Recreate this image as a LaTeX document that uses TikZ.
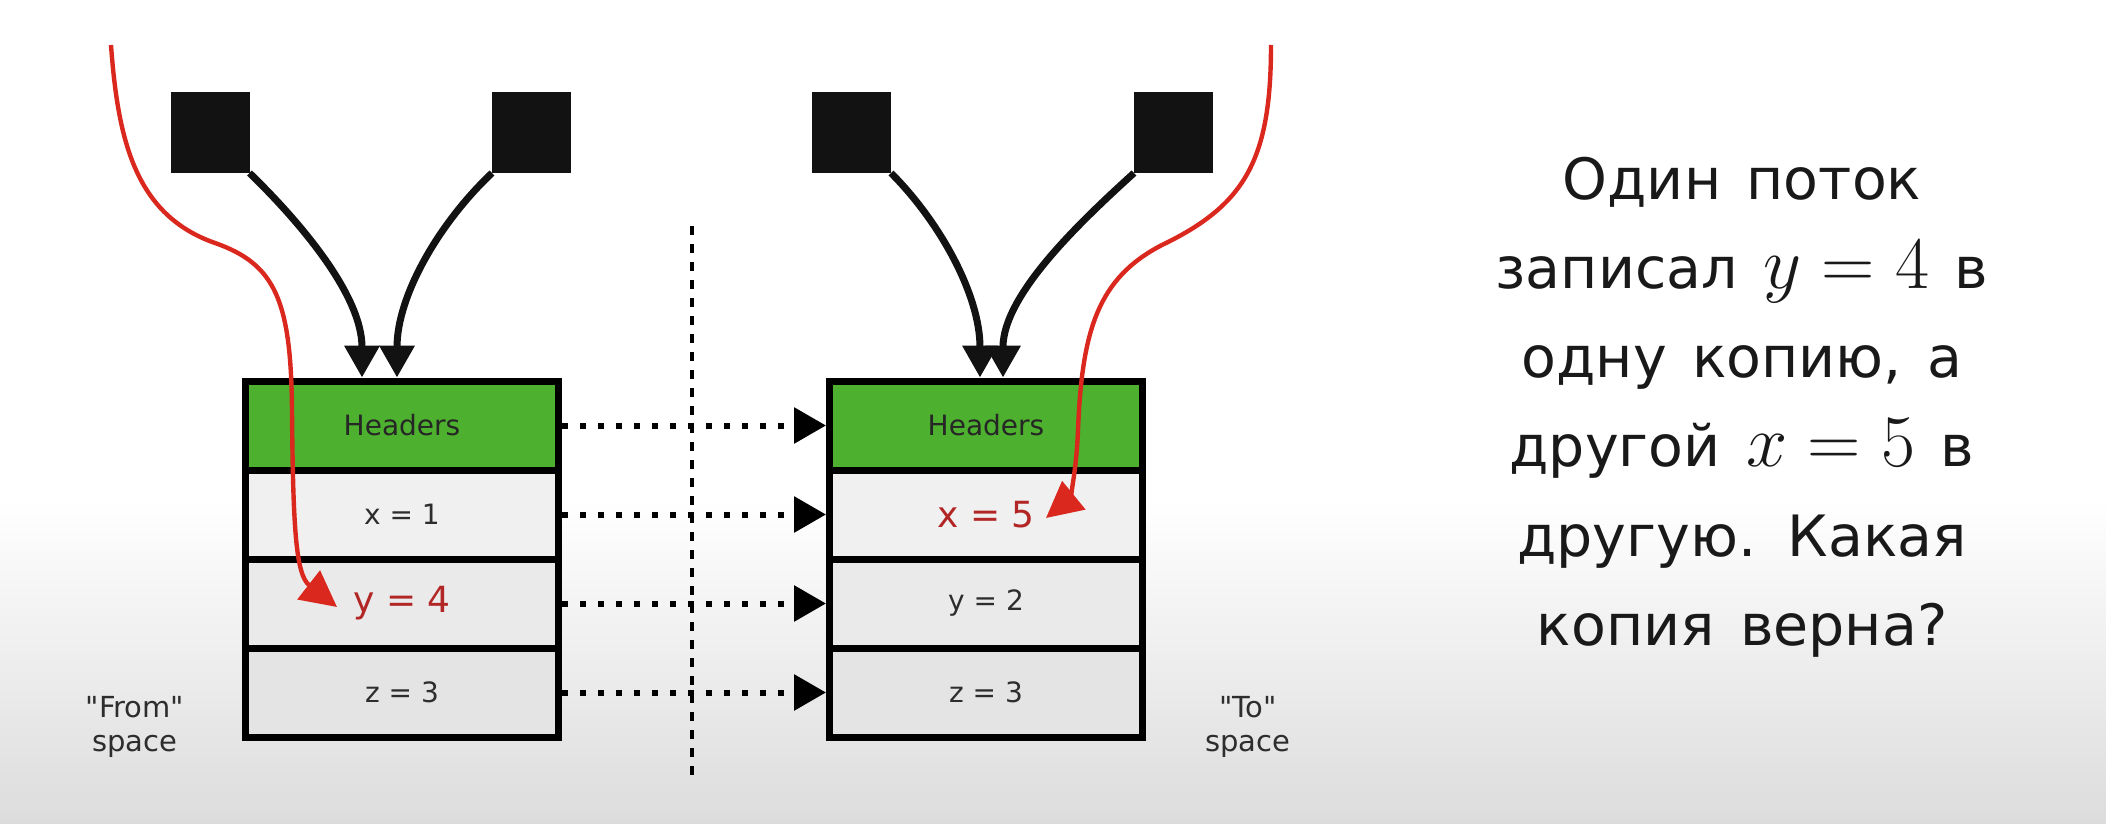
\RequirePackage{fix-cm}
\documentclass[tikz,border=0pt]{standalone}
\usepackage{fontspec}
\newfontfamily\dvs{DejaVu Sans}
\newcommand\qmath[1]{{\fontsize{37}{44.6}\selectfont$#1$}}
\newcommand\qfont{\dvs\fontsize{28.5}{44.6}\selectfont\spaceskip 0.445em\relax}
\usetikzlibrary{arrows.meta,calc}
\definecolor{hdrgreen}{RGB}{77,176,46}
\definecolor{rowa}{RGB}{240,240,240}
\definecolor{rowb}{RGB}{234,234,234}
\definecolor{rowc}{RGB}{228,228,228}
\definecolor{bggray}{RGB}{220,220,220}
\definecolor{redline}{RGB}{218,40,30}
\definecolor{redtxt}{RGB}{178,38,38}
\definecolor{inkgray}{RGB}{45,45,45}
\tikzset{
  cell/.style={draw=black, line width=3.5pt, minimum width=156.5pt, minimum height=44.5pt,
    inner sep=0pt, font=\dvs\fontsize{14}{16}\selectfont, text=inkgray},
  bigval/.style={text=redtxt, font=\dvs\fontsize{18}{20}\selectfont},
  thread/.style={fill=black!93, draw=none, minimum width=39.5pt, minimum height=40.5pt,
    inner sep=0pt, outer sep=0pt},
  blkarrow/.style={draw=black!93, line width=3.5pt, -{Triangle[length=16pt,width=17pt]}},
  redarrow/.style={draw=redline, line width=2.2pt, -{Triangle[length=18pt,width=18pt]}},
  dotarrow/.style={draw=black, line width=3pt, dash pattern=on 3pt off 6pt,
    -{Triangle[length=16pt,width=17.5pt]}},
  sepline/.style={draw=black, line width=1.75pt, dash pattern=on 4.5pt off 4.5pt},
  spacelbl/.style={align=center, font=\dvs\fontsize{14.5}{17}\selectfont, text=inkgray, inner sep=0pt},
  question/.style={align=center, font=\qfont, text=black!90, inner sep=0pt}
}
\begin{document}
\begin{tikzpicture}[x=0.5pt,y=-0.5pt]
\useasboundingbox (0,0) rectangle (2106,824);
\fill[white] (0,0) rectangle (2106,824);
\shade[top color=white,bottom color=bggray] (0,500) rectangle (2106,824);

% separator
\coordinate (sepTop) at (692,226);
\coordinate (sepBot) at (692,783);
\draw[sepline] (sepTop) -- (sepBot);

% From space
\node[cell, fill=hdrgreen, text=black!85] (L1) at (402,425.5) {Headers};
\node[cell, fill=rowa] (L2) at (402,514.5) {x = 1};
\node[cell, fill=rowb, bigval] (L3) at (402,603.5) {y = 4};
\node[cell, fill=rowc] (L4) at (402,692.5) {z = 3};

% To space
\node[cell, fill=hdrgreen, text=black!85] (R1) at (986,425.5) {Headers};
\node[cell, fill=rowa, bigval] (R2) at (986,514.5) {x = 5};
\node[cell, fill=rowb] (R3) at (986,603.5) {y = 2};
\node[cell, fill=rowc] (R4) at (986,692.5) {z = 3};

% copy arrows
\draw[dotarrow] (L1.east) -- (R1.west);
\draw[dotarrow] (L2.east) -- (R2.west);
\draw[dotarrow] (L3.east) -- (R3.west);
\draw[dotarrow] (L4.east) -- (R4.west);

% threads
\node[thread] (tA) at (210,132.5) {};
\node[thread] (tB) at (531.5,132.5) {};
\node[thread] (tC) at (851.5,132.5) {};
\node[thread] (tD) at (1173.5,132.5) {};

\coordinate (hA) at ($(L1.north)+(-40,0)$);
\coordinate (hB) at ($(L1.north)+(-5,0)$);
\coordinate (hC) at ($(R1.north)+(-6,0)$);
\coordinate (hD) at ($(R1.north)+(17,0)$);

\draw[blkarrow] (tA.south east) .. controls (300,222) and (362,295) .. (hA);
\draw[blkarrow] (tB.south west) .. controls (440,222) and (397,295) .. (hB);
\draw[blkarrow] (tC.south east) .. controls (940,222) and (980,295) .. (hC);
\draw[blkarrow] (tD.south west) .. controls (1080,222) and (1003,295) .. (hD);

% red writes
\coordinate (rLs) at (111,45);
\coordinate (rLe) at (337,607);
\coordinate (rRs) at (1271,45);
\coordinate (rRe) at (1046,518);
\draw[redarrow] (rLs) .. controls (118,140) and (135,215) .. (215,243)
  .. controls (275,264) and (291,300) .. (292,410)
  .. controls (293,530) and (296,575) .. (rLe);
\draw[redarrow] (rRs) .. controls (1271,160) and (1245,205) .. (1162,245)
  .. controls (1098,278) and (1082,330) .. (1078,430)
  .. controls (1076,480) and (1068,500) .. (rRe);

% labels
\node[spacelbl] (fromlbl) at (135,727) {"From"\\space};
\node[spacelbl] (tolbl) at (1248,727) {"To"\\space};

% question
\node[question] (q) at (1742,407) {Один поток\\записал \qmath{y=4} в\\одну копию, а\\другой \qmath{x=5} в\\другую. Какая\\копия верна?};
\end{tikzpicture}
\end{document}
